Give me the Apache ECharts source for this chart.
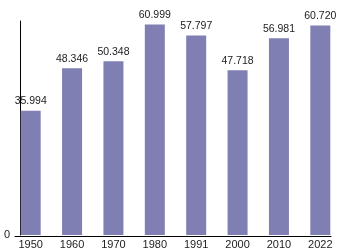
<!DOCTYPE html>
<html>
<head>
<meta charset="utf-8">
<script src="https://cdn.jsdelivr.net/npm/echarts@6/dist/echarts.min.js"></script>
<style>html,body{margin:0;padding:0;background:#fff;}#c{width:350px;height:250px;}</style>
</head>
<body>
<div id="c"></div>
<script>
const categories = ['1950','1960','1970','1980','1991','2000','2010','2022'];
const values = [35.994, 48.346, 50.348, 60.999, 57.797, 47.718, 56.981, 60.720];
const yMax = 62;

const chart = echarts.init(document.getElementById('c'), null, {renderer:'canvas'});
chart.setOption({
  animation: false,
  backgroundColor: '#ffffff',
  grid: [
    {left: 10, right: 9, top: 21, bottom: 14},
    {left: 15, right: 19, top: 21, bottom: 14}
  ],
  xAxis: [
    {
      type: 'category', gridIndex: 0, data: categories,
      axisLine: {show: false}, axisTick: {show: false},
      axisLabel: {color: '#222', fontSize: 11, fontFamily: 'Liberation Sans, Arial, sans-serif', margin: 4}
    },
    {
      type: 'value', gridIndex: 1, min: 0, max: 1,
      axisLine: {show: true, lineStyle: {color: '#000', width: 1}},
      axisTick: {show: false}, axisLabel: {show: false}, splitLine: {show: false}
    }
  ],
  yAxis: [
    {
      type: 'value', gridIndex: 0, min: 0, max: yMax, interval: yMax, offset: -10,
      axisLine: {show: true, lineStyle: {color: '#000', width: 1}},
      axisTick: {show: false}, splitLine: {show: false},
      axisLabel: {
        color: '#222', fontSize: 11, fontFamily: 'Liberation Sans, Arial, sans-serif', margin: 10,
        formatter: v => v === 0 ? '0' : ''
      }
    },
    {
      type: 'value', gridIndex: 1, min: 0, max: 1, show: false
    }
  ],
  series: [{
    type: 'bar', xAxisIndex: 0, yAxisIndex: 0,
    data: values, barWidth: 20,
    itemStyle: {color: '#7f7fb3'},
    label: {
      show: true, position: 'top', distance: 4,
      color: '#222', fontSize: 10.5, fontFamily: 'Liberation Sans, Arial, sans-serif',
      formatter: p => p.value.toFixed(3)
    }
  }]
});
</script>
</body>
</html>
